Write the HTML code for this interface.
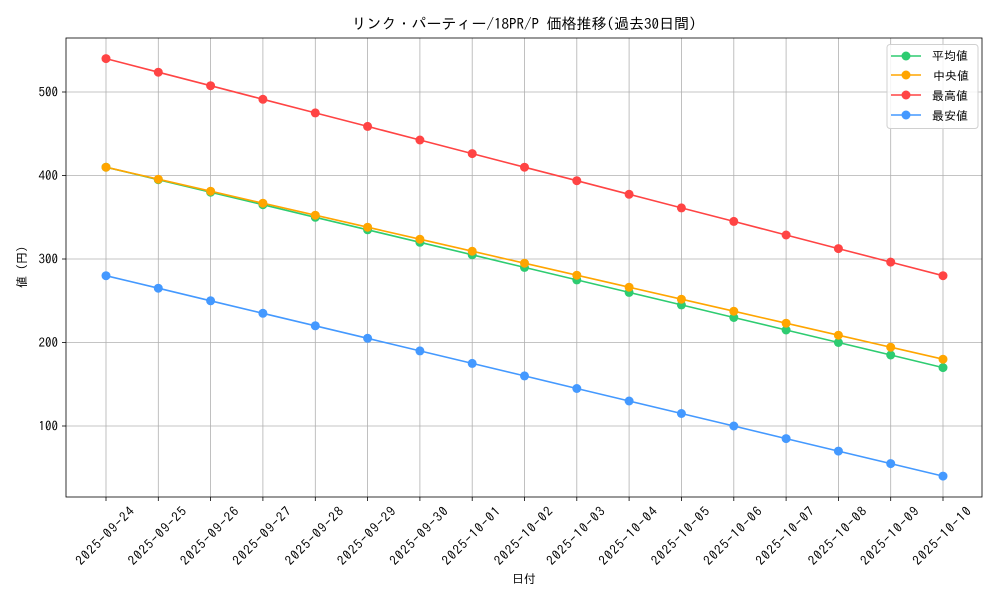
<!DOCTYPE html>
<html><head><meta charset="utf-8"><style>
body{margin:0;background:#fff}
svg text{font-family:"IPAGothic","Noto Sans CJK JP",monospace;fill:#000}
</style></head><body>
<svg width="1000" height="600" xmlns="http://www.w3.org/2000/svg">
<rect width="1000" height="600" fill="#fff"/>
<g stroke="#b0b0b0" stroke-width="0.8">
<line x1="106" y1="38" x2="106" y2="497"/><line x1="158.3" y1="38" x2="158.3" y2="497"/><line x1="210.6" y1="38" x2="210.6" y2="497"/><line x1="262.9" y1="38" x2="262.9" y2="497"/><line x1="315.3" y1="38" x2="315.3" y2="497"/><line x1="367.6" y1="38" x2="367.6" y2="497"/><line x1="419.9" y1="38" x2="419.9" y2="497"/><line x1="472.2" y1="38" x2="472.2" y2="497"/><line x1="524.5" y1="38" x2="524.5" y2="497"/><line x1="576.8" y1="38" x2="576.8" y2="497"/><line x1="629.1" y1="38" x2="629.1" y2="497"/><line x1="681.4" y1="38" x2="681.4" y2="497"/><line x1="733.8" y1="38" x2="733.8" y2="497"/><line x1="786.1" y1="38" x2="786.1" y2="497"/><line x1="838.4" y1="38" x2="838.4" y2="497"/><line x1="890.7" y1="38" x2="890.7" y2="497"/><line x1="943" y1="38" x2="943" y2="497"/>
<line x1="66" y1="92" x2="982" y2="92"/><line x1="66" y1="175.5" x2="982" y2="175.5"/><line x1="66" y1="259" x2="982" y2="259"/><line x1="66" y1="342.5" x2="982" y2="342.5"/><line x1="66" y1="426" x2="982" y2="426"/>
</g>
<rect x="66" y="38" width="916" height="459" fill="none" stroke="#000" stroke-width="0.8"/>
<g stroke="#000" stroke-width="0.8">
<line x1="62" y1="92" x2="66" y2="92"/><line x1="62" y1="175.5" x2="66" y2="175.5"/><line x1="62" y1="259" x2="66" y2="259"/><line x1="62" y1="342.5" x2="66" y2="342.5"/><line x1="62" y1="426" x2="66" y2="426"/>
<line x1="106" y1="497" x2="106" y2="501"/><line x1="158.3" y1="497" x2="158.3" y2="501"/><line x1="210.6" y1="497" x2="210.6" y2="501"/><line x1="262.9" y1="497" x2="262.9" y2="501"/><line x1="315.3" y1="497" x2="315.3" y2="501"/><line x1="367.6" y1="497" x2="367.6" y2="501"/><line x1="419.9" y1="497" x2="419.9" y2="501"/><line x1="472.2" y1="497" x2="472.2" y2="501"/><line x1="524.5" y1="497" x2="524.5" y2="501"/><line x1="576.8" y1="497" x2="576.8" y2="501"/><line x1="629.1" y1="497" x2="629.1" y2="501"/><line x1="681.4" y1="497" x2="681.4" y2="501"/><line x1="733.8" y1="497" x2="733.8" y2="501"/><line x1="786.1" y1="497" x2="786.1" y2="501"/><line x1="838.4" y1="497" x2="838.4" y2="501"/><line x1="890.7" y1="497" x2="890.7" y2="501"/><line x1="943" y1="497" x2="943" y2="501"/>
</g>
<g font-size="13" text-anchor="end">
<text x="58" y="96.5">500</text><text x="58" y="180">400</text><text x="58" y="263.5">300</text><text x="58" y="347">200</text><text x="58" y="430.5">100</text>
</g>
<g font-size="13" text-anchor="middle" dominant-baseline="central">
<text transform="translate(105,536) rotate(-45)" textLength="76">2025-09-24</text>
<text transform="translate(157.3,536) rotate(-45)" textLength="76">2025-09-25</text>
<text transform="translate(209.6,536) rotate(-45)" textLength="76">2025-09-26</text>
<text transform="translate(261.9,536) rotate(-45)" textLength="76">2025-09-27</text>
<text transform="translate(314.3,536) rotate(-45)" textLength="76">2025-09-28</text>
<text transform="translate(366.6,536) rotate(-45)" textLength="76">2025-09-29</text>
<text transform="translate(418.9,536) rotate(-45)" textLength="76">2025-09-30</text>
<text transform="translate(471.2,536) rotate(-45)" textLength="76">2025-10-01</text>
<text transform="translate(523.5,536) rotate(-45)" textLength="76">2025-10-02</text>
<text transform="translate(575.8,536) rotate(-45)" textLength="76">2025-10-03</text>
<text transform="translate(628.1,536) rotate(-45)" textLength="76">2025-10-04</text>
<text transform="translate(680.4,536) rotate(-45)" textLength="76">2025-10-05</text>
<text transform="translate(732.8,536) rotate(-45)" textLength="76">2025-10-06</text>
<text transform="translate(785.1,536) rotate(-45)" textLength="76">2025-10-07</text>
<text transform="translate(837.4,536) rotate(-45)" textLength="76">2025-10-08</text>
<text transform="translate(889.7,536) rotate(-45)" textLength="76">2025-10-09</text>
<text transform="translate(942,536) rotate(-45)" textLength="76">2025-10-10</text>
</g>
<text x="524" y="583" font-size="12" text-anchor="middle">日付</text>
<text transform="translate(26,267) rotate(-90)" font-size="12" text-anchor="middle">値 (円)</text>
<text x="524" y="29" font-size="15" text-anchor="middle">リンク・パーティー/18PR/P 価格推移(過去30日間)</text>
<g fill="none" stroke-width="1.6">
<polyline stroke="#2ecc71" points="106,167.2 158.3,179.7 210.6,192.2 262.9,204.7 315.3,217.3 367.6,229.8 419.9,242.3 472.2,254.8 524.5,267.4 576.8,279.9 629.1,292.4 681.4,304.9 733.8,317.5 786.1,330 838.4,342.5 890.7,355 943,367.6"/>
<polyline stroke="#ffa500" points="106,167.2 158.3,179.2 210.6,191.2 262.9,203.2 315.3,215.2 367.6,227.2 419.9,239.2 472.2,251.2 524.5,263.2 576.8,275.2 629.1,287.2 681.4,299.2 733.8,311.2 786.1,323.2 838.4,335.2 890.7,347.2 943,359.2"/>
<polyline stroke="#ff4444" points="106,58.6 158.3,72.2 210.6,85.7 262.9,99.3 315.3,112.9 367.6,126.4 419.9,140 472.2,153.6 524.5,167.2 576.8,180.7 629.1,194.3 681.4,207.9 733.8,221.4 786.1,235 838.4,248.6 890.7,262.1 943,275.7"/>
<polyline stroke="#4499ff" points="106,275.7 158.3,288.2 210.6,300.8 262.9,313.3 315.3,325.8 367.6,338.3 419.9,350.9 472.2,363.4 524.5,375.9 576.8,388.5 629.1,401 681.4,413.5 733.8,426 786.1,438.6 838.4,451.1 890.7,463.6 943,476.1"/>
</g>
<g fill="#2ecc71">
<circle cx="106" cy="167.2" r="4.5"/><circle cx="158.3" cy="179.7" r="4.5"/><circle cx="210.6" cy="192.2" r="4.5"/><circle cx="262.9" cy="204.7" r="4.5"/><circle cx="315.3" cy="217.3" r="4.5"/><circle cx="367.6" cy="229.8" r="4.5"/><circle cx="419.9" cy="242.3" r="4.5"/><circle cx="472.2" cy="254.8" r="4.5"/><circle cx="524.5" cy="267.4" r="4.5"/><circle cx="576.8" cy="279.9" r="4.5"/><circle cx="629.1" cy="292.4" r="4.5"/><circle cx="681.4" cy="304.9" r="4.5"/><circle cx="733.8" cy="317.5" r="4.5"/><circle cx="786.1" cy="330" r="4.5"/><circle cx="838.4" cy="342.5" r="4.5"/><circle cx="890.7" cy="355" r="4.5"/><circle cx="943" cy="367.6" r="4.5"/>
</g>
<g fill="#ffa500">
<circle cx="106" cy="167.2" r="4.5"/><circle cx="158.3" cy="179.2" r="4.5"/><circle cx="210.6" cy="191.2" r="4.5"/><circle cx="262.9" cy="203.2" r="4.5"/><circle cx="315.3" cy="215.2" r="4.5"/><circle cx="367.6" cy="227.2" r="4.5"/><circle cx="419.9" cy="239.2" r="4.5"/><circle cx="472.2" cy="251.2" r="4.5"/><circle cx="524.5" cy="263.2" r="4.5"/><circle cx="576.8" cy="275.2" r="4.5"/><circle cx="629.1" cy="287.2" r="4.5"/><circle cx="681.4" cy="299.2" r="4.5"/><circle cx="733.8" cy="311.2" r="4.5"/><circle cx="786.1" cy="323.2" r="4.5"/><circle cx="838.4" cy="335.2" r="4.5"/><circle cx="890.7" cy="347.2" r="4.5"/><circle cx="943" cy="359.2" r="4.5"/>
</g>
<g fill="#ff4444">
<circle cx="106" cy="58.6" r="4.5"/><circle cx="158.3" cy="72.2" r="4.5"/><circle cx="210.6" cy="85.7" r="4.5"/><circle cx="262.9" cy="99.3" r="4.5"/><circle cx="315.3" cy="112.9" r="4.5"/><circle cx="367.6" cy="126.4" r="4.5"/><circle cx="419.9" cy="140" r="4.5"/><circle cx="472.2" cy="153.6" r="4.5"/><circle cx="524.5" cy="167.2" r="4.5"/><circle cx="576.8" cy="180.7" r="4.5"/><circle cx="629.1" cy="194.3" r="4.5"/><circle cx="681.4" cy="207.9" r="4.5"/><circle cx="733.8" cy="221.4" r="4.5"/><circle cx="786.1" cy="235" r="4.5"/><circle cx="838.4" cy="248.6" r="4.5"/><circle cx="890.7" cy="262.1" r="4.5"/><circle cx="943" cy="275.7" r="4.5"/>
</g>
<g fill="#4499ff">
<circle cx="106" cy="275.7" r="4.5"/><circle cx="158.3" cy="288.2" r="4.5"/><circle cx="210.6" cy="300.8" r="4.5"/><circle cx="262.9" cy="313.3" r="4.5"/><circle cx="315.3" cy="325.8" r="4.5"/><circle cx="367.6" cy="338.3" r="4.5"/><circle cx="419.9" cy="350.9" r="4.5"/><circle cx="472.2" cy="363.4" r="4.5"/><circle cx="524.5" cy="375.9" r="4.5"/><circle cx="576.8" cy="388.5" r="4.5"/><circle cx="629.1" cy="401" r="4.5"/><circle cx="681.4" cy="413.5" r="4.5"/><circle cx="733.8" cy="426" r="4.5"/><circle cx="786.1" cy="438.6" r="4.5"/><circle cx="838.4" cy="451.1" r="4.5"/><circle cx="890.7" cy="463.6" r="4.5"/><circle cx="943" cy="476.1" r="4.5"/>
</g>
<rect x="887" y="44.5" width="91" height="84" rx="3" fill="#fff" fill-opacity="0.85" stroke="#d0d0d0" stroke-width="1"/>
<g stroke-width="1.6">
<line x1="891" y1="56" x2="921" y2="56" stroke="#2ecc71"/><circle cx="906" cy="56" r="4.5" fill="#2ecc71"/>
<line x1="891" y1="75" x2="921" y2="75" stroke="#ffa500"/><circle cx="906" cy="75" r="4.5" fill="#ffa500"/>
<line x1="891" y1="95" x2="921" y2="95" stroke="#ff4444"/><circle cx="906" cy="95" r="4.5" fill="#ff4444"/>
<line x1="891" y1="115" x2="921" y2="115" stroke="#4499ff"/><circle cx="906" cy="115" r="4.5" fill="#4499ff"/>
</g>
<g font-size="12">
<text x="932" y="60">平均値</text><text x="933" y="80">中央値</text><text x="932" y="100">最高値</text><text x="932" y="120">最安値</text>
</g>
</svg>
</body></html>
